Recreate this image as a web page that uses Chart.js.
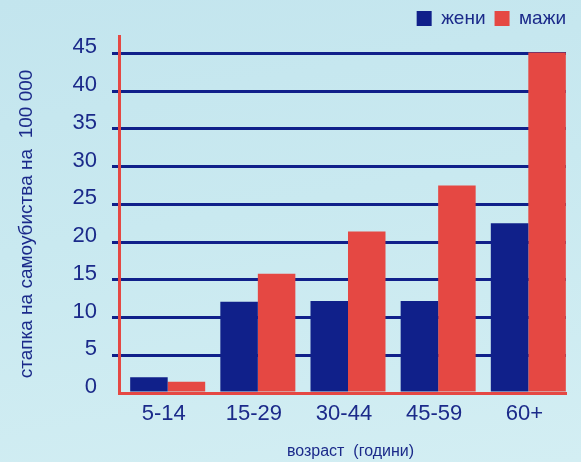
<!DOCTYPE html>
<html><head><meta charset="utf-8">
<script src="https://cdn.jsdelivr.net/npm/chart.js@4/dist/chart.umd.min.js"></script>
<style>
html,body{margin:0;padding:0;}
body{width:581px;height:462px;overflow:hidden;background:linear-gradient(170deg,#c3e5ee 0%,#c9e9f0 45%,#d3eef3 100%);}
#wrap{position:relative;width:581px;height:462px;}
</style></head><body>
<div id="wrap"><canvas id="c" width="581" height="462"></canvas></div>
<script>
const categories = ['5-14', '15-29', '30-44', '45-59', '60+'];
const women = [2.1, 12.1, 12.2, 12.2, 22.5];
const men = [1.5, 15.8, 21.4, 27.5, 45.1];
const yTicks = [0, 5, 10, 15, 20, 25, 30, 35, 40, 45];
const seriesNames = ['жени', 'мажи'];
const yTitle = 'стапка на самоубиства на  100 000\u2003';
const xTitle = '\u2003возраст  (години)';

const NAVY = '#10208a';
const RED = '#e54843';
const TEXT = '#1b2a8a';
const FONT = 'Liberation Sans, Arial, sans-serif';

Chart.defaults.font.family = FONT;
Chart.defaults.color = TEXT;

new Chart(document.getElementById('c'), {
  type: 'bar',
  data: {
    datasets: [
      { label: seriesNames[0], data: women.map((v, i) => ({x: i, y: v})), backgroundColor: NAVY, borderWidth: 0 },
      { label: seriesNames[1], data: men.map((v, i) => ({x: i, y: v})), backgroundColor: RED, borderWidth: 0 }
    ]
  },
  options: {
    responsive: false,
    animation: false,
    events: [],
    categoryPercentage: 0.832,
    barPercentage: 1.0,
    layout: { padding: { top: 0, right: 6, bottom: 0, left: 0 } },
    plugins: {
      legend: {
        position: 'top',
        align: 'end',
        maxHeight: 36,
        labels: {
          font: { size: 19, family: FONT },
          color: TEXT,
          boxWidth: 15,
          boxHeight: 15,
          padding: 9
        }
      },
      tooltip: { enabled: false }
    },
    scales: {
      x: {
        type: 'linear',
        offset: false,
        min: -0.540,
        max: 4.418,
        afterBuildTicks: (s) => { s.ticks = categories.map((_, i) => ({ value: i })); },
        afterFit: (s) => { s.height = 69; },
        grid: { display: false, drawTicks: false, offset: false },
        border: { display: true, color: RED, width: 3 },
        ticks: {
          autoSkip: false,
          maxRotation: 0,
          padding: 8,
          labelOffset: -4,
          font: { size: 22, family: FONT },
          color: TEXT,
          callback: (v) => categories[v] !== undefined ? categories[v] : ''
        },
        title: {
          display: true,
          text: xTitle,
          color: TEXT,
          font: { size: 16, family: FONT },
          padding: { top: 0, bottom: 1 }
        }
      },
      y: {
        type: 'linear',
        position: 'left',
        min: 0,
        max: 47.3,
        afterBuildTicks: (s) => { s.ticks = yTicks.map(v => ({ value: v })); },
        afterFit: (s) => { s.width = 119; },
        grid: {
          lineWidth: 3,
          tickLength: 7,
          drawTicks: true,
          color: (c) => (c.tick && c.tick.value === 0) ? 'rgba(0,0,0,0)' : NAVY,
          tickColor: (c) => (c.tick && c.tick.value === 0) ? 'rgba(0,0,0,0)' : NAVY
        },
        border: { display: true, color: RED, width: 3 },
        ticks: {
          padding: 15,
          labelOffset: -6,
          font: { size: 22, family: FONT },
          color: TEXT
        },
        title: {
          display: true,
          text: yTitle,
          color: TEXT,
          font: { size: 19, family: FONT },
          padding: { top: 15, bottom: 0 }
        }
      },
      y2: {
        type: 'linear',
        position: 'right',
        display: true,
        min: 0,
        max: 47.3,
        afterFit: (s) => { s.width = 9; },
        grid: { display: false, drawTicks: false },
        border: { display: false },
        ticks: { display: false }
      }
    }
  }
});
</script>
</body></html>
